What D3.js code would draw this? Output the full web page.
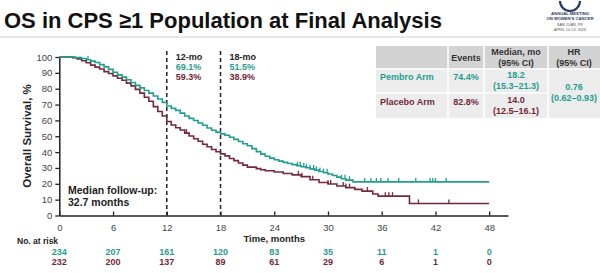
<!DOCTYPE html>
<html>
<head>
<meta charset="utf-8">
<script src="https://cdn.jsdelivr.net/npm/d3@7"></script>
<style>
  body { margin: 0; background: #fff; }
  svg { display: block; font-family: "Liberation Sans", Arial, sans-serif; }
</style>
</head>
<body>
<svg width="600" height="273"></svg>
<script>
// Data
const xTicks = [0, 6, 12, 18, 24, 30, 36, 42, 48]
const yTicks = [0, 10, 20, 30, 40, 50, 60, 70, 80, 90, 100]

const pembroTime = [0, 1, 1.8, 2.5, 3, 3.5, 4, 4.5, 5, 5.5, 6, 6.5, 7, 7.5, 8, 8.5, 9, 9.5, 10, 10.5, 11, 11.5, 12, 12.5, 13, 13.5, 14, 14.5, 15, 15.5, 16, 16.5, 17, 17.5, 18, 18.5, 19, 19.5, 20, 20.5, 21, 21.5, 22, 22.5, 23, 23.5, 24, 24.5, 25, 25.5, 26, 26.5, 27, 27.5, 28, 28.5, 29, 29.5, 30, 30.5, 31, 31.5, 32, 32.8, 48]
const pembroSurv = [100, 100, 99.6, 99.1, 98.3, 97.4, 96.5, 95.2, 93.8, 92.2, 90.4, 88.7, 87.3, 85.6, 83.9, 82.1, 80.5, 78.9, 77.2, 75.4, 73.5, 71.4, 69.1, 67.6, 66.3, 64.6, 62.8, 61.3, 59.9, 58.4, 56.9, 55.2, 53.8, 52.6, 51.5, 50.6, 49.4, 48.0, 46.7, 45.3, 44.0, 42.2, 40.3, 38.7, 37.4, 36.2, 35.2, 34.3, 33.5, 32.8, 32.1, 31.4, 30.8, 30.1, 29.4, 28.6, 27.8, 27.0, 26.2, 25.2, 24.2, 23.2, 22.3, 21.2, 21.2]
const pembroCensor = [3.2, 26.6, 26.9, 27.3, 27.6, 28.0, 28.4, 28.7, 29.1, 29.5, 29.9, 31.5, 31.9, 32.4, 34.1, 34.8, 35.4, 35.9, 36.7, 37.9, 39.8, 41.4, 41.7, 42.0, 43.2]

const placeboTime = [0, 1, 1.5, 2, 2.5, 3, 3.5, 4, 4.5, 5, 5.5, 6, 6.5, 7, 7.5, 8, 8.5, 9, 9.5, 10, 10.5, 11, 11.5, 12, 12.5, 13, 13.5, 14, 14.5, 15, 15.5, 16, 16.5, 17, 17.5, 18, 18.5, 19, 19.5, 20, 20.5, 21, 22, 22.5, 23, 24, 25, 26, 27, 28, 29, 30, 31, 32, 33, 33.8, 35, 35.6, 39.1, 48]
const placeboSurv = [100, 100, 99.5, 98.8, 97.6, 96.4, 94.9, 93.6, 92.4, 90.8, 89.6, 88.1, 86.6, 85.3, 83.5, 81.8, 79.6, 77.2, 74.6, 72.1, 68.7, 65.6, 62.8, 59.3, 57.1, 55.4, 53.9, 52.0, 50.2, 48.4, 46.8, 45.0, 43.4, 41.6, 40.2, 38.9, 37.6, 36.0, 34.6, 33.1, 31.8, 30.5, 29.6, 28.9, 28.2, 27.4, 26.5, 25.6, 24.5, 22.6, 20.8, 19.9, 18.6, 17.6, 16.5, 15.4, 13.6, 12.2, 7.6, 7.6]
const placeboCensor = [14.2, 26.7, 27.1, 28.3, 30.0, 30.3, 31.7, 32.0, 32.4, 34.4, 36.4, 36.8, 37.2, 40.1, 43.5]

const riskPembro = [234, 207, 161, 120, 83, 35, 11, 1, 0]
const riskPlacebo = [232, 200, 137, 89, 61, 29, 6, 1, 0]

const landmarks = [
  {month: 12, label: '12-mo', pembro: '69.1%', placebo: '59.3%'},
  {month: 18, label: '18-mo', pembro: '51.5%', placebo: '38.9%'}
]

const tableHeader = ['', 'Events', 'Median, mo|(95% CI)', 'HR|(95% CI)']
const tableRows = [
  {arm: 'Pembro Arm', events: '74.4%', median: '18.2', ci: '(15.3–21.3)'},
  {arm: 'Placebo Arm', events: '82.8%', median: '14.0', ci: '(12.5–16.1)'}
]
const hrText = ['0.76', '(0.62–0.93)']

const teal = '#1f9e8e'
const maroon = '#74283a'
const svg = d3.select('svg')

// title + rule
svg.append('text').attr('x', 4).attr('y', 28)
  .attr('font-size', 22).attr('font-weight', 'bold').attr('fill', '#111')
  .text('OS in CPS ≥1 Population at Final Analysis')
svg.append('line').attr('x1', 0).attr('x2', 600).attr('y1', 37).attr('y2', 37)
  .attr('stroke', '#dedede').attr('stroke-width', 1.5)

// little meeting logo, top right
const logo = svg.append('g').attr('text-anchor', 'middle')
logo.append('path').attr('d', 'M560,1 A10,10 0 0 0 580,1').attr('fill', 'none')
  .attr('stroke', '#2a3a66').attr('stroke-width', 2.2)
logo.append('text').attr('x', 570).attr('y', 15).attr('font-size', 4.2).attr('font-weight', 'bold').attr('fill', '#2a3a66').text('ANNUAL MEETING')
logo.append('text').attr('x', 570).attr('y', 19.5).attr('font-size', 4.2).attr('font-weight', 'bold').attr('fill', '#2a3a66').text("ON WOMEN'S CANCER")
logo.append('text').attr('x', 570).attr('y', 26).attr('font-size', 3.8).attr('fill', '#555').text('SAN JUAN, PR')
logo.append('text').attr('x', 570).attr('y', 30.5).attr('font-size', 3.8).attr('fill', '#555').text('APRIL 10-13, 2026')

// scales
const xScale = d3.scaleLinear().domain([0, 50.1]).range([59.3, 508])
const yScale = d3.scaleLinear().domain([0, 100]).range([215.5, 57])

// axes
const xAxis = d3.axisBottom(xScale).tickValues(xTicks).tickSize(4).tickSizeOuter(0)
const yAxis = d3.axisLeft(yScale).tickValues(yTicks).tickSize(4).tickSizeOuter(0)
const gx = svg.append('g').attr('transform', 'translate(0,215.5)').call(xAxis)
const gy = svg.append('g').attr('transform', 'translate(59.3,0)').call(yAxis)
gx.selectAll('text').attr('font-size', 9.5).attr('fill', '#444').attr('dy', '0.9em')
gx.selectAll('.tick line').attr('transform', 'translate(0,-4)').attr('y2', 4)
gy.selectAll('text').attr('font-size', 9.5).attr('fill', '#444')
;[gx, gy].forEach(g => {
  g.select('.domain').attr('stroke', '#222').attr('stroke-width', 1.5)
  g.selectAll('.tick line').attr('stroke', '#222').attr('stroke-width', 1.3)
})

svg.append('text').attr('transform', 'translate(31,136) rotate(-90)')
  .attr('text-anchor', 'middle').attr('font-size', 11.5).attr('font-weight', 'bold').attr('fill', '#222')
  .text('Overall Survival, %')
svg.append('text').attr('x', xScale(24)).attr('y', 242).attr('text-anchor', 'middle')
  .attr('font-size', 9.5).attr('font-weight', 'bold').attr('fill', '#222').text('Time, months')

// landmark dashed lines + labels
landmarks.forEach(d => {
  const x = xScale(d.month)
  svg.append('line').attr('x1', x).attr('x2', x).attr('y1', 51).attr('y2', 215)
    .attr('stroke', '#222').attr('stroke-width', 1.5).attr('stroke-dasharray', '4,3')
  const t = svg.append('g').attr('font-size', 9).attr('font-weight', 'bold')
  t.append('text').attr('x', x + 9).attr('y', 60).attr('fill', '#222').text(d.label)
  t.append('text').attr('x', x + 9).attr('y', 70).attr('fill', teal).text(d.pembro)
  t.append('text').attr('x', x + 9).attr('y', 80).attr('fill', maroon).text(d.placebo)
})

// KM curves
const drawArm = (times, surv, censor, color) => {
  const pts = times.map((t, i) => [t, surv[i]])
  const line = d3.line().x(d => xScale(d[0])).y(d => yScale(d[1])).curve(d3.curveStepAfter)
  svg.append('path').datum(pts).attr('d', line)
    .attr('fill', 'none').attr('stroke', color).attr('stroke-width', 1.6)
  const survAt = t => surv[d3.bisectRight(times, t) - 1]
  svg.append('g').selectAll('line').data(censor).enter().append('line')
    .attr('x1', d => xScale(d)).attr('x2', d => xScale(d))
    .attr('y1', d => yScale(survAt(d))).attr('y2', d => yScale(survAt(d)) - 4)
    .attr('stroke', color).attr('stroke-width', 1.3)
}
drawArm(placeboTime, placeboSurv, placeboCensor, maroon)
drawArm(pembroTime, pembroSurv, pembroCensor, teal)

// median follow-up note
svg.append('text').attr('x', 68).attr('y', 194).attr('font-size', 10.5).attr('font-weight', 'bold').attr('fill', '#222').text('Median follow-up:')
svg.append('text').attr('x', 68).attr('y', 206).attr('font-size', 10.5).attr('font-weight', 'bold').attr('fill', '#222').text('32.7 months')

// numbers at risk
svg.append('text').attr('x', 17).attr('y', 244).attr('font-size', 8.5).attr('font-weight', 'bold').attr('fill', '#222').text('No. at risk')
svg.append('g').selectAll('text').data(riskPembro).enter().append('text')
  .attr('x', (d, i) => xScale(xTicks[i])).attr('y', 255).attr('text-anchor', 'middle')
  .attr('font-size', 9).attr('font-weight', 'bold').attr('fill', teal).text(d => d)
svg.append('g').selectAll('text').data(riskPlacebo).enter().append('text')
  .attr('x', (d, i) => xScale(xTicks[i])).attr('y', 265).attr('text-anchor', 'middle')
  .attr('font-size', 9).attr('font-weight', 'bold').attr('fill', maroon).text(d => d)

// summary table
const colX = [376, 448, 484, 548, 600]
const rowY = [46, 69, 93, 118]
const tbl = svg.append('g').attr('font-weight', 'bold').attr('font-size', 9)
for (let c = 0; c < 4; c++) {
  tbl.append('rect').attr('x', colX[c]).attr('y', rowY[0]).attr('width', colX[c + 1] - colX[c]).attr('height', rowY[1] - rowY[0]).attr('fill', '#d3d3d3')
  const lines = tableHeader[c].split('|')
  lines.forEach((s, k) => {
    tbl.append('text').attr('x', (colX[c] + colX[c + 1]) / 2)
      .attr('y', lines.length === 1 ? 61 : 55 + k * 11).attr('text-anchor', 'middle').attr('fill', '#333').text(s)
  })
}
tableRows.forEach((r, i) => {
  const color = i === 0 ? teal : maroon
  for (let c = 0; c < 3; c++) {
    tbl.append('rect').attr('x', colX[c]).attr('y', rowY[i + 1]).attr('width', colX[c + 1] - colX[c]).attr('height', rowY[i + 2] - rowY[i + 1]).attr('fill', '#ececec')
  }
  const yc = (rowY[i + 1] + rowY[i + 2]) / 2
  tbl.append('text').attr('x', 380).attr('y', yc - 1).attr('fill', color).text(r.arm)
  tbl.append('text').attr('x', (colX[1] + colX[2]) / 2).attr('y', yc - 1).attr('text-anchor', 'middle').attr('fill', color).text(r.events)
  tbl.append('text').attr('x', (colX[2] + colX[3]) / 2).attr('y', yc - 3).attr('text-anchor', 'middle').attr('fill', color).text(r.median)
  tbl.append('text').attr('x', (colX[2] + colX[3]) / 2).attr('y', yc + 8).attr('text-anchor', 'middle').attr('fill', color).text(r.ci)
})
tbl.append('rect').attr('x', colX[3]).attr('y', rowY[1]).attr('width', colX[4] - colX[3]).attr('height', rowY[3] - rowY[1]).attr('fill', '#ececec')
hrText.forEach((s, k) => {
  tbl.append('text').attr('x', (colX[3] + colX[4]) / 2).attr('y', 90 + k * 11).attr('text-anchor', 'middle').attr('fill', teal).text(s)
})
// white cell borders
colX.slice(1, 4).forEach(x => tbl.append('line').attr('x1', x).attr('x2', x).attr('y1', rowY[0]).attr('y2', rowY[3]).attr('stroke', '#fff').attr('stroke-width', 1.5))
rowY.slice(1, 3).forEach((y, i) => tbl.append('line').attr('x1', colX[0]).attr('x2', i === 1 ? colX[3] : colX[4]).attr('y1', y).attr('y2', y).attr('stroke', '#fff').attr('stroke-width', 1.5))
</script>
</body>
</html>
